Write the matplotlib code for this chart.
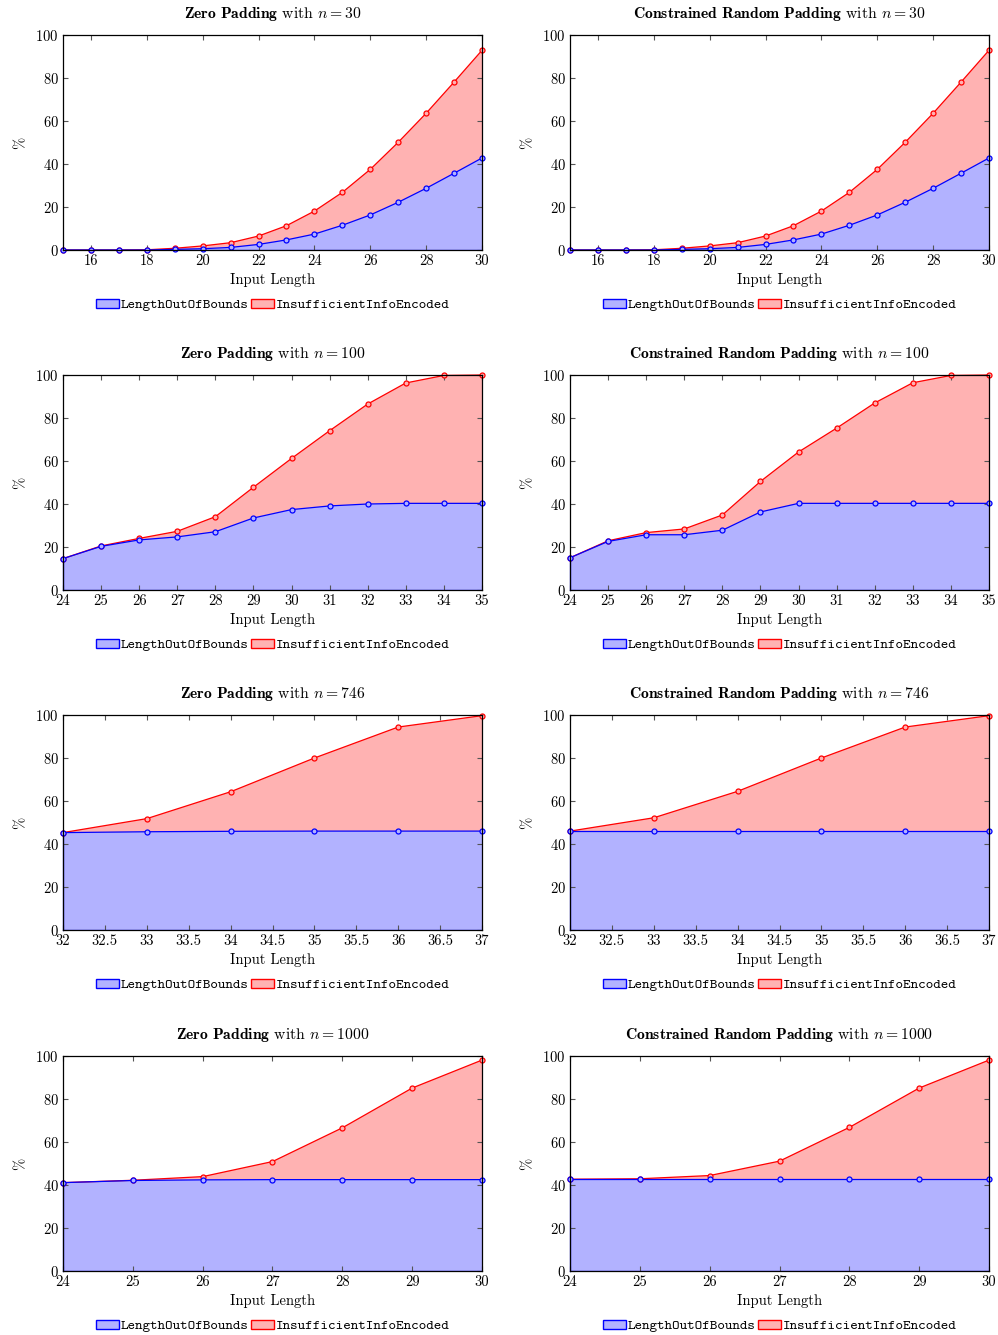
import matplotlib
matplotlib.use("Agg")
import matplotlib.pyplot as plt
from matplotlib.patches import Patch
from matplotlib.font_manager import FontProperties

plt.rcParams["font.family"] = "cmr10"
plt.rcParams["mathtext.fontset"] = "cm"
plt.rcParams["axes.formatter.use_mathtext"] = True

# ---- data: share of inputs (%) per failure reason, by input length ----
len_30 = [15, 16, 17, 18, 19, 20, 21, 22, 23, 24, 25, 26, 27, 28, 29, 30]
zp30_oob = [0, 0, 0, 0, 0.3, 0.6, 1.2, 2.6, 4.7, 7.4, 11.5, 16.3, 22.2, 28.7, 35.7, 42.8]
zp30_iie = [0, 0, 0, 0.1, 0.5, 1.3, 2.2, 3.9, 6.6, 10.7, 15.3, 21.2, 27.9, 34.9, 42.4, 50.1]
crp30_oob = [0, 0, 0, 0, 0.3, 0.6, 1.2, 2.6, 4.7, 7.4, 11.5, 16.3, 22.2, 28.7, 35.7, 42.8]
crp30_iie = [0, 0, 0, 0.1, 0.5, 1.3, 2.2, 3.9, 6.6, 10.7, 15.3, 21.2, 27.9, 34.9, 42.4, 50.1]

len_100 = [24, 25, 26, 27, 28, 29, 30, 31, 32, 33, 34, 35]
zp100_oob = [14.6, 20.3, 23.3, 24.7, 27.1, 33.5, 37.4, 39.1, 40.0, 40.3, 40.3, 40.3]
zp100_iie = [0, 0.2, 0.7, 2.6, 7.0, 14.3, 23.8, 35.0, 46.5, 56.0, 59.5, 59.7]
crp100_oob = [15.0, 22.6, 25.7, 25.7, 27.8, 36.3, 40.3, 40.3, 40.3, 40.3, 40.3, 40.3]
crp100_iie = [0, 0.3, 1.0, 2.7, 7.1, 14.2, 23.9, 35.0, 46.7, 56.1, 59.5, 59.7]

len_746 = [32, 33, 34, 35, 36, 37]
zp746_oob = [45.3, 45.7, 45.9, 46.0, 46.0, 46.0]
zp746_iie = [0, 6.1, 18.4, 34.0, 48.4, 53.7]
crp746_oob = [46.0, 46.0, 46.0, 46.0, 46.0, 46.0]
crp746_iie = [0, 6.2, 18.5, 34.0, 48.4, 53.7]

len_1000 = [24, 25, 26, 27, 28, 29, 30]
zp1000_oob = [41.1, 42.1, 42.4, 42.5, 42.5, 42.5, 42.5]
zp1000_iie = [0, 0.1, 1.5, 8.4, 24.1, 42.6, 55.6]
crp1000_oob = [42.7, 42.7, 42.7, 42.7, 42.7, 42.7, 42.7]
crp1000_iie = [0, 0.2, 1.7, 8.4, 24.1, 42.4, 55.4]

methods = ["Zero Padding", "Constrained Random Padding"]
sample_sizes = [30, 100, 746, 1000]
series_names = ["LengthOutOfBounds", "InsufficientInfoEncoded"]

panels = [
    [(len_30, zp30_oob, zp30_iie), (len_30, crp30_oob, crp30_iie)],
    [(len_100, zp100_oob, zp100_iie), (len_100, crp100_oob, crp100_iie)],
    [(len_746, zp746_oob, zp746_iie), (len_746, crp746_oob, crp746_iie)],
    [(len_1000, zp1000_oob, zp1000_iie), (len_1000, crp1000_oob, crp1000_iie)],
]
x_steps = [2, 1, 0.5, 1]

BLUE, RED = "#0000ff", "#ff0000"
BLUE_FILL, RED_FILL = "#b2b2ff", "#ffb2b2"

W, H = 998, 1335
fig = plt.figure(figsize=(W / 100, H / 100), dpi=100)

col_left = [63, 570]
ax_w = 419
row_top = [35, 375, 715, 1056]
ax_h = 215

legend_font = FontProperties(family="cmtt10", size=10.4)

for r in range(4):
    for c in range(2):
        x, oob, iie = panels[r][c]
        top = [a + b for a, b in zip(oob, iie)]
        ax = fig.add_axes([col_left[c] / W, 1 - (row_top[r] + ax_h) / H, ax_w / W, ax_h / H])

        ax.fill_between(x, 0, oob, facecolor=BLUE_FILL, edgecolor="none", zorder=1)
        ax.fill_between(x, oob, top, facecolor=RED_FILL, edgecolor="none", zorder=1)
        ax.plot(x, top, color=RED, lw=0.9, marker="o", ms=3.6, mew=0.9,
                mfc=RED_FILL, mec=RED, zorder=3, clip_on=False)
        ax.plot(x, oob, color=BLUE, lw=0.9, marker="o", ms=3.6, mew=0.9,
                mfc=BLUE_FILL, mec=BLUE, zorder=4, clip_on=False)
        # closing edges of the stacked areas
        ax.plot([x[0], x[-1]], [0, 0], color=BLUE, lw=0.9, zorder=2)
        ax.plot([x[0], x[0]], [0, oob[0]], color=BLUE, lw=0.9, zorder=2, clip_on=False)

        ax.set_xlim(x[0], x[-1])
        ax.set_ylim(0, 100)
        step = x_steps[r]
        ticks = []
        t = x[0] if step != 2 else 16
        while t <= x[-1] + 1e-9:
            ticks.append(t)
            t += step
        ax.set_xticks(ticks)
        ax.set_xticklabels([("%g" % t) for t in ticks])
        ax.set_yticks([0, 20, 40, 60, 80, 100])

        ax.tick_params(direction="in", top=True, right=True, length=3.5,
                       width=0.8, color="#555555", labelsize=10.5, pad=3)
        for s in ax.spines.values():
            s.set_linewidth(0.9)
            s.set_color("black")
            s.set_zorder(5)

        ax.set_title(r"$\mathbf{%s}$ with $n = %d$" % (methods[c].replace(" ", r"\ "), sample_sizes[r]),
                     fontsize=11.3, pad=12)
        ax.set_xlabel("Input Length", fontsize=10.5, labelpad=4)
        ax.set_ylabel("%", fontsize=10.5, labelpad=6)

        handles = [Patch(facecolor=BLUE_FILL, edgecolor=BLUE, lw=1.0),
                   Patch(facecolor=RED_FILL, edgecolor=RED, lw=1.0)]
        ax.legend(handles, series_names, loc="upper center", bbox_to_anchor=(0.5, -0.2),
                  ncol=2, frameon=False, prop=legend_font, handlelength=1.6,
                  handleheight=0.6, handletextpad=0.1, columnspacing=0.2,
                  borderaxespad=0)

fig.savefig("out.png", dpi=100)
